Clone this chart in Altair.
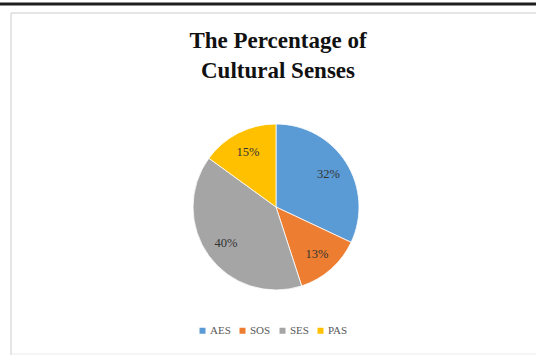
import altair as alt
import pandas as pd

categories = ["AES", "SOS", "SES", "PAS"]
values = [32, 13, 40, 15]
labels = ["32%", "13%", "40%", "15%"]
colors = ["#5B9BD5", "#ED7D31", "#A5A5A5", "#FFC000"]
title_lines = ["The Percentage of", "Cultural Senses"]

df = pd.DataFrame({"cat": categories, "val": values, "label": labels, "order": list(range(len(categories)))})

W, H = 536, 356
CX, CY, R = 276, 207, 83
SERIF = "Liberation Serif"

base = alt.Chart(df).encode(
    theta=alt.Theta("val:Q", stack=True),
    order=alt.Order("order:Q"),
)

pie = base.mark_arc(radius=R, stroke="white", strokeWidth=0.8).encode(
    x=alt.value(CX),
    y=alt.value(CY),
    color=alt.Color(
        "cat:N",
        sort=categories,
        scale=alt.Scale(domain=categories, range=colors),
        legend=alt.Legend(
            orient="none",
            legendX=197,
            legendY=325,
            direction="horizontal",
            columns=4,
            title=None,
            symbolType="square",
            symbolSize=36,
            symbolStrokeWidth=0,
            labelFont=SERIF,
            labelFontSize=11,
            labelColor="#595959",
            labelOffset=2,
            columnPadding=6,
        ),
    ),
)

pct = base.mark_text(radius=62, font=SERIF, fontSize=12.5, color="#333333").encode(
    x=alt.value(CX),
    y=alt.value(CY),
    text="label:N",
)

title1 = alt.Chart(pd.DataFrame({"t": [title_lines[0]]})).mark_text(
    font=SERIF, fontSize=23, fontWeight="bold", color="#111111", baseline="alphabetic", align="center"
).encode(text="t:N", x=alt.value(278), y=alt.value(48))

title2 = alt.Chart(pd.DataFrame({"t": [title_lines[1]]})).mark_text(
    font=SERIF, fontSize=23, fontWeight="bold", color="#111111", baseline="alphabetic", align="center"
).encode(text="t:N", x=alt.value(278), y=alt.value(78))

frame_top = alt.Chart(pd.DataFrame({"a": [0]})).mark_rule(
    stroke="#dcdcdc", strokeWidth=1.5
).encode(x=alt.value(11), x2=alt.value(W), y=alt.value(13))

frame_left = alt.Chart(pd.DataFrame({"a": [0]})).mark_rule(
    stroke="#dcdcdc", strokeWidth=1.5
).encode(x=alt.value(11), y=alt.value(13), y2=alt.value(355))

frame_bottom = alt.Chart(pd.DataFrame({"a": [0]})).mark_rule(
    stroke="#ececec", strokeWidth=1
).encode(x=alt.value(11), x2=alt.value(W), y=alt.value(354))

topline = alt.Chart(pd.DataFrame({"a": [0]})).mark_rule(
    stroke="#1e1e1e", strokeWidth=3
).encode(x=alt.value(0), x2=alt.value(W), y=alt.value(4))

chart = alt.layer(frame_top, frame_left, frame_bottom, topline, pie, pct, title1, title2).properties(
    width=W,
    height=H,
    autosize=alt.AutoSizeParams(type="none"),
    padding=0,
    background="white",
).configure_view(stroke=None)

chart.save("out.html", embed_options={"renderer": "svg", "actions": False})
